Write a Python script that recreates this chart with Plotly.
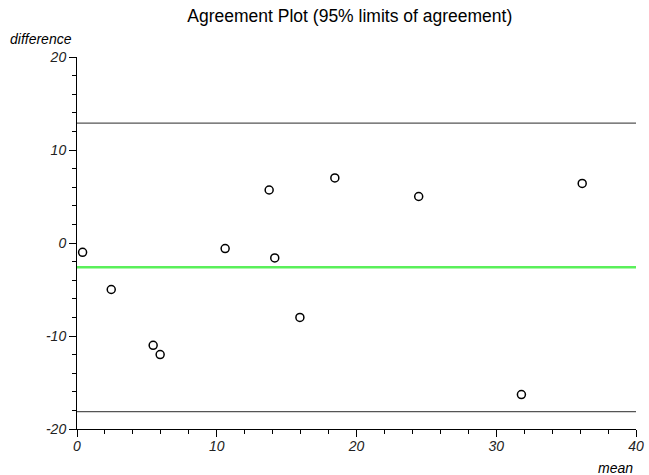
import numpy as np
import plotly.graph_objects as go

# Bland-Altman data: mean of the two methods and their difference
mean_vals = [0.4, 2.45, 5.45, 5.95, 10.6, 13.75, 14.15, 15.95, 18.45, 24.45, 36.15, 31.8]
diff_vals = [-1.0, -5.0, -11.0, -12.0, -0.6, 5.7, -1.6, -8.0, 7.0, 5.0, 6.4, -16.3]

x_range = [0, 40]
y_range = [-20, 20]
x_ticks = [0, 10, 20, 30, 40]
y_ticks = [-20, -10, 0, 10, 20]
x_tick_text = ["0", "10", "20", "30", "40"]
y_tick_text = ["-20", "-10", "0", "10", "20"]

d = np.array(diff_vals)
bias = d.mean()
sd = d.std(ddof=1)
upper = bias + 1.96 * sd
lower = bias - 1.96 * sd

FONT = "Arial, Liberation Sans, sans-serif"

fig = go.Figure()

# limits of agreement and bias lines
for level, color, width in [(upper, "#555555", 1.2), (lower, "#555555", 1.2), (bias, "rgb(90,240,90)", 2.5)]:
    fig.add_trace(go.Scatter(
        x=x_range, y=[level, level], mode="lines",
        line=dict(color=color, width=width), hoverinfo="skip", showlegend=False,
    ))

fig.add_trace(go.Scatter(
    x=mean_vals, y=diff_vals, mode="markers",
    marker=dict(symbol="circle-open", size=8, color="black", line=dict(width=1.5)),
    showlegend=False,
))

axis_common = dict(
    showgrid=False, zeroline=False, showline=True, linecolor="black", linewidth=1,
    automargin=False,
    ticks="outside", ticklen=7, tickwidth=1, tickcolor="black",
    tickfont=dict(family=FONT, size=14, color="#222222"),
    minor=dict(ticks="outside", ticklen=4, tickcolor="black", dtick=2, showgrid=False),
)

fig.update_xaxes(range=x_range, tickvals=x_ticks, ticklabelstandoff=-3,
                 ticktext=[f"<i>{t}</i>" for t in x_tick_text], **axis_common)
fig.update_yaxes(range=y_range, tickvals=y_ticks,
                 ticktext=[f"<i>{t}</i>" for t in y_tick_text], **axis_common)

fig.update_layout(
    width=649, height=475,
    margin=dict(l=77, r=13, t=57, b=46),
    plot_bgcolor="white", paper_bgcolor="white",
    title=dict(text="Agreement Plot (95% limits of agreement)", x=0.488, xref="paper",
               y=1 - 16 / 475, yanchor="middle",
               font=dict(family=FONT, size=17.5, color="black")),
    annotations=[
        dict(text="<i>difference</i>", xref="paper", yref="paper", x=-0.005, y=1.048,
             xanchor="right", yanchor="middle", showarrow=False,
             font=dict(family=FONT, size=14, color="black")),
        dict(text="<i>mean</i>", xref="paper", yref="paper", x=0.998, y=-0.105,
             xanchor="right", yanchor="middle", showarrow=False,
             font=dict(family=FONT, size=14, color="black")),
    ],
)

fig.write_html("out.html")
